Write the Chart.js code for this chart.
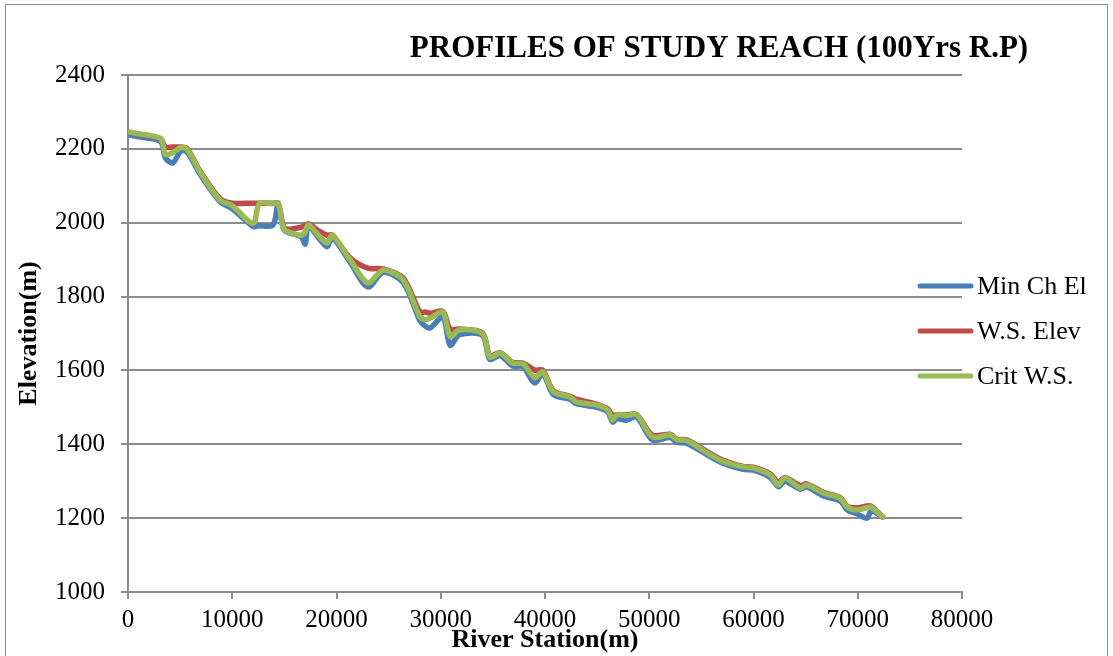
<!DOCTYPE html>
<html>
<head>
<meta charset="utf-8">
<title>Profiles of Study Reach</title>
<script src="https://cdn.jsdelivr.net/npm/chart.js"></script>
<style>
    html, body { margin: 0; padding: 0; background: #fff; }
</style>
</head>
<body>
<canvas id="profileChart" width="1113" height="656"></canvas>
<script>
const chartTitle = "PROFILES OF STUDY REACH (100Yrs R.P)";
const seriesNames = ["Min Ch El", "W.S. Elev", "Crit W.S."];
const seriesColors = ["#4a7ebb", "#be4b48", "#98b954"];

// river stations (m)
const stations = [
    0, 1200, 2600, 3200, 3600, 4300, 5100, 5700, 6900, 8800,
    10000, 12000, 12600, 13900, 14400, 14900, 15300, 16600, 17000, 17300,
    18400, 19100, 19600, 21300, 23000, 24500, 26400, 28000, 28500, 29000,
    30200, 30900, 31800, 34000, 34700, 35700, 36900, 37900, 39000, 39800,
    40800, 42400, 43000, 45000, 46000, 46500, 46900, 47800, 48800, 50300,
    52000, 52700, 53600, 56800, 59000, 60000, 61600, 62400, 63000, 64500,
    65100, 66700, 68300, 69000, 69900, 70900, 71300, 72400
];
const minChEl = [
    2238, 2232, 2226, 2218, 2175, 2162, 2195, 2190, 2132, 2058,
    2038, 1990, 1992, 1993, 2050, 1985, 1974, 1962, 1942, 1990,
    1955, 1935, 1960, 1893, 1826, 1866, 1838, 1735, 1720, 1715,
    1745, 1668, 1697, 1695, 1630, 1640, 1612, 1610, 1566, 1590,
    1535, 1522, 1510, 1500, 1488, 1460, 1470, 1465, 1474, 1412,
    1418, 1405, 1403, 1352, 1332, 1330, 1310, 1285, 1300, 1278,
    1285, 1260, 1247, 1222, 1212, 1200, 1220, 1203
];
const wsElev = [
    2245, 2239, 2232, 2225, 2205, 2205, 2205, 2200, 2140, 2066,
    2053, 2053, 2053, 2053, 2053, 1990, 1982, 1988, 1992, 1997,
    1976, 1966, 1967, 1905, 1877, 1875, 1850, 1758, 1758, 1755,
    1760, 1712, 1712, 1702, 1640, 1648, 1622, 1620, 1601, 1600,
    1545, 1530, 1522, 1508, 1496, 1478, 1480, 1480, 1480, 1425,
    1427, 1413, 1412, 1360, 1340, 1338, 1320, 1297, 1310, 1288,
    1293, 1270, 1256, 1232, 1228, 1233, 1232, 1203
];
const critWS = [
    2246, 2240, 2233, 2226, 2185, 2190, 2204, 2198, 2138, 2062,
    2046, 1998, 2052, 2052, 2052, 1985, 1976, 1966, 1975, 1994,
    1962, 1945, 1966, 1900, 1837, 1872, 1845, 1745, 1738, 1742,
    1758, 1692, 1710, 1700, 1636, 1647, 1620, 1618, 1580, 1596,
    1542, 1528, 1515, 1506, 1493, 1466, 1480, 1478, 1480, 1420,
    1425, 1412, 1410, 1357, 1339, 1336, 1317, 1290, 1309, 1282,
    1290, 1268, 1254, 1230, 1222, 1228, 1230, 1203
];

const xTicks = [0, 10000, 20000, 30000, 40000, 50000, 60000, 70000, 80000];
const yTicks = [1000, 1200, 1400, 1600, 1800, 2000, 2200, 2400];

const serif = "'Liberation Serif', 'Times New Roman', serif";
const axisGray = "#8c8c8c";

// border, title and legend drawn like the Excel chart
const extrasPlugin = {
    id: "extras",
    beforeDraw(chart) {
        const ctx = chart.ctx;
        ctx.save();
        ctx.fillStyle = "#fff";
        ctx.fillRect(0, 0, chart.width, chart.height);
        ctx.strokeStyle = axisGray;
        ctx.lineWidth = 1;
        ctx.strokeRect(5.5, 4.5, 1102, 700);
        ctx.restore();
    },
    afterDraw(chart) {
        const ctx = chart.ctx;
        ctx.save();
        ctx.fillStyle = "#000";
        ctx.font = "bold 31px " + serif;
        ctx.textAlign = "center";
        ctx.textBaseline = "middle";
        ctx.fillText(chartTitle, 719, 49);

        ctx.font = "26px " + serif;
        ctx.textAlign = "left";
        chart.data.datasets.forEach((ds, i) => {
            const y = 286 + i * 45;
            ctx.strokeStyle = ds.borderColor;
            ctx.lineWidth = 5;
            ctx.lineCap = "round";
            ctx.beginPath();
            ctx.moveTo(920, y);
            ctx.lineTo(971, y);
            ctx.stroke();
            ctx.fillText(ds.label, 977, y + 1);
        });
        ctx.restore();
    }
};

const allSeries = [minChEl, wsElev, critWS];

new Chart(document.getElementById("profileChart"), {
    type: "line",
    data: {
        datasets: allSeries.map((values, i) => ({
            label: seriesNames[i],
            data: stations.map((s, j) => ({ x: s, y: values[j] })),
            borderColor: seriesColors[i],
            backgroundColor: seriesColors[i],
            borderWidth: 5.5,
            borderCapStyle: "round",
            borderJoinStyle: "round",
            pointRadius: 0,
            tension: 0.3,
            fill: false,
            order: 3 - i
        }))
    },
    options: {
        responsive: false,
        animation: false,
        devicePixelRatio: 1,
        layout: {
            padding: { top: 75, right: 151, left: 0, bottom: 0 }
        },
        plugins: {
            legend: { display: false },
            title: { display: false },
            tooltip: { enabled: false }
        },
        scales: {
            x: {
                type: "linear",
                min: 0,
                max: 80000,
                afterBuildTicks: axis => { axis.ticks = xTicks.map(v => ({ value: v })); },
                afterFit: axis => { axis.height = 64; },
                grid: { drawOnChartArea: false, drawTicks: true, tickLength: 7, color: axisGray, lineWidth: 2 },
                border: { color: axisGray, width: 2 },
                ticks: {
                    color: "#000",
                    font: { family: serif, size: 25 },
                    padding: 6,
                    maxRotation: 0,
                    autoSkip: false,
                    callback: v => String(v)
                },
                title: {
                    display: true,
                    text: "River Station(m)",
                    color: "#000",
                    font: { family: serif, size: 26, weight: "bold" },
                    padding: { top: 0, bottom: 0 }
                }
            },
            y: {
                type: "linear",
                min: 1000,
                max: 2400,
                afterBuildTicks: axis => { axis.ticks = yTicks.map(v => ({ value: v })); },
                afterFit: axis => { axis.width = 128; },
                grid: { color: axisGray, lineWidth: 2, tickLength: 7, drawTicks: true },
                border: { color: axisGray, width: 2 },
                ticks: {
                    color: "#000",
                    font: { family: serif, size: 25 },
                    padding: 16,
                    callback: v => String(v)
                },
                title: {
                    display: true,
                    text: "Elevation(m)",
                    color: "#000",
                    font: { family: serif, size: 26, weight: "bold" },
                    padding: { top: 14, bottom: 0 }
                }
            }
        }
    },
    plugins: [extrasPlugin]
});
</script>
</body>
</html>
